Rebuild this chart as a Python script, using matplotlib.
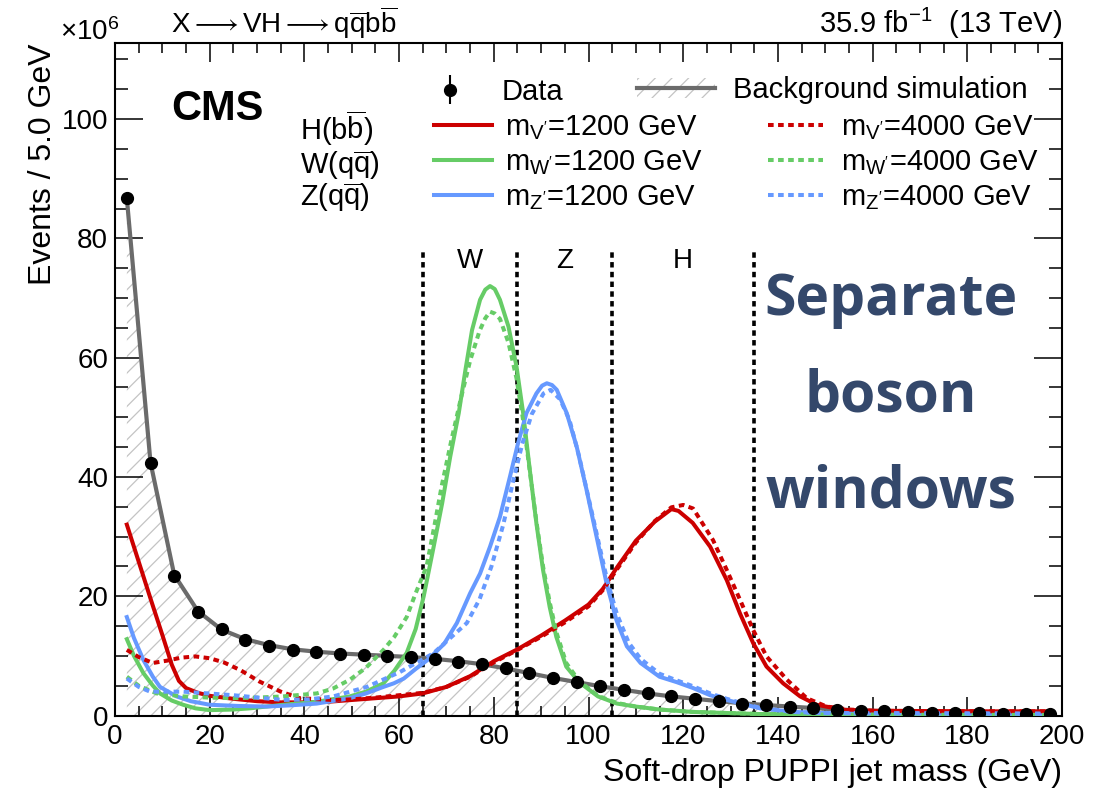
import numpy as np
import matplotlib
matplotlib.use("Agg")
import matplotlib.pyplot as plt
from matplotlib.lines import Line2D
from matplotlib.patches import Patch
from matplotlib.ticker import MultipleLocator
from matplotlib.legend_handler import HandlerTuple

plt.rcParams['font.family'] = ['Liberation Sans', 'DejaVu Sans']
plt.rcParams['mathtext.fontset'] = 'custom'
plt.rcParams['mathtext.rm'] = 'Liberation Sans'
plt.rcParams['mathtext.it'] = 'Liberation Sans:italic'
plt.rcParams['mathtext.bf'] = 'Liberation Sans:bold'
plt.rcParams['mathtext.fallback'] = 'stixsans'
plt.rcParams['hatch.linewidth'] = 0.9

# ---------------- data (values in units of 10^6 events) ----------------
bin_centers = [2.5, 7.5, 12.5, 17.5, 22.5, 27.5, 32.5, 37.5, 42.5, 47.5,
               52.5, 57.5, 62.5, 67.5, 72.5, 77.5, 82.5, 87.5, 92.5, 97.5,
               102.5, 107.5, 112.5, 117.5, 122.5, 127.5, 132.5, 137.5, 142.5, 147.5,
               152.5, 157.5, 162.5, 167.5, 172.5, 177.5, 182.5, 187.5, 192.5, 197.5]
data_events = [86.7, 42.4, 23.4, 17.4, 14.5, 12.7, 11.7, 11.0, 10.6, 10.3,
               10.1, 10.0, 9.85, 9.45, 9.0, 8.6, 7.9, 7.2, 6.3, 5.7,
               5.0, 4.3, 3.7, 3.2, 2.8, 2.4, 2.0, 1.7, 1.5, 1.2,
               0.92, 0.8, 0.7, 0.6, 0.5, 0.45, 0.4, 0.33, 0.28, 0.22]
bg_sim = [86.7, 42.4, 23.6, 17.5, 14.4, 12.8, 11.8, 11.1, 10.7, 10.4,
          10.2, 10.0, 9.8, 9.5, 9.1, 8.6, 7.9, 7.1, 6.3, 5.6,
          4.9, 4.3, 3.7, 3.2, 2.8, 2.4, 2.05, 1.75, 1.5, 1.25,
          1.0, 0.85, 0.72, 0.62, 0.52, 0.45, 0.4, 0.34, 0.29, 0.25]

# H(bb) m=1200 (solid red)
h1200_x = [2.5, 5, 7.5, 10, 12, 13.5, 15, 17.5, 20, 25, 30, 35, 40, 45, 50, 55, 60, 65, 70, 75,
           80, 85, 90, 95, 100, 103, 106, 110, 114, 117.5, 119, 122, 125.7, 129.2, 132, 134.8,
           137.6, 141.1, 144.7, 148.2, 153.8, 160, 170, 185, 197.5]
h1200_y = [32.0, 25.8, 19.6, 13.5, 8.5, 5.8, 4.6, 3.8, 3.3, 2.8, 2.4, 2.2, 2.2, 2.3, 2.6, 2.9, 3.2, 3.7, 4.8, 6.6,
           9.1, 11.1, 13.4, 15.9, 18.6, 21.2, 24.8, 29.3, 32.5, 34.6, 34.3, 32.3, 28.3, 22.7, 17.1, 12.1,
           8.2, 5.4, 3.2, 1.8, 0.95, 0.8, 0.75, 0.7, 0.7]
# H(bb) m=4000 (dotted red)
h4000_x = [2.5, 5, 8, 11, 14, 17, 20, 23, 26.5, 30.5, 35, 39, 46, 50, 55, 60, 65, 70, 75, 80,
           85, 90, 95, 100, 103, 106, 110, 114, 117.5, 120, 122.1, 126.3, 129.2, 132, 134.8, 137.6,
           141.9, 146.1, 150.3, 155, 160, 175, 197.5]
h4000_y = [11.0, 9.8, 8.8, 9.2, 9.7, 9.9, 9.6, 8.9, 7.6, 5.7, 4.0, 2.9, 2.6, 2.7, 3.0, 3.4, 3.8, 4.8, 6.5, 8.9,
           11.0, 13.2, 15.6, 18.3, 21.0, 24.5, 29.0, 32.6, 34.9, 35.3, 34.7, 29.4, 24.4, 19.4, 14.3, 9.9,
           6.0, 2.9, 1.5, 1.0, 0.8, 0.7, 0.7]
# W(qq) m=1200 (solid green)
w1200_x = [2.5, 4, 6, 8, 9.5, 12, 14.4, 17, 20, 25, 28.5, 32, 35.5, 42.6, 49.6, 53, 56.7, 59, 61.6, 63.5,
           65.2, 67.3, 69.1, 70.8, 72.6, 74, 75.4, 77.1, 78.2, 79.2, 80.2, 81.3, 83.1, 84.8, 86.2, 87.6, 89, 90.4,
           91.8, 93.2, 95.3, 98, 102, 106, 110, 115, 122, 136, 150, 197.5]
w1200_y = [12.8, 10.0, 7.1, 5.0, 3.7, 2.5, 1.8, 1.2, 0.9, 1.0, 1.2, 1.5, 1.8, 2.3, 3.2, 4.0, 5.4, 7.5, 10.5, 14.5,
           20.0, 28.3, 35.6, 43.4, 50.7, 57.9, 64.6, 69.7, 71.4, 72.0, 71.5, 69.7, 65.2, 58.5, 50.7, 41.2, 32.2, 24.4,
           18.2, 13.2, 8.2, 5.6, 3.2, 2.0, 1.5, 1.0, 0.6, 0.25, 0.15, 0.1]
# W(qq) m=4000 (dotted green)
w4000_x = [2.5, 5, 8.8, 14.4, 20, 25, 30, 35.5, 42.6, 46, 49.6, 53, 56.7, 59, 61.6, 63.5, 65.8, 67.5, 69, 71,
           73, 75, 77, 78.2, 79.2, 80.2, 81.3, 83.1, 84.8, 86.2, 87.6, 89, 90.4, 91.8, 93.2, 95.3, 98, 102, 106, 110,
           115, 122, 136, 150, 197.5]
w4000_y = [6.5, 5.0, 3.7, 3.2, 3.0, 2.9, 3.0, 3.2, 3.7, 4.5, 6.0, 8.0, 11.0, 13.2, 16.5, 20.5, 25.0, 32.0, 38.5, 46.0,
           53.0, 59.5, 64.5, 66.6, 67.7, 67.4, 66.5, 62.5, 56.5, 49.5, 41.0, 32.5, 25.0, 19.0, 14.0, 8.8, 5.8, 3.3, 2.1, 1.5,
           1.0, 0.6, 0.25, 0.15, 0.1]
# Z(qq) m=1200 (solid blue)
z1200_x = [2.5, 4, 6, 8, 9.5, 13, 16, 20, 26, 32, 37, 42.6, 49.6, 53, 56.7, 58.9, 61, 63.5, 66, 69.5,
           72.2, 75, 77.1, 79.2, 81.3, 83.4, 85.1, 86.9, 89, 90.2, 91.2, 92.3, 93.3, 95.4, 97.5, 99.6, 101.7, 103.8,
           105.9, 108.1, 111, 115, 118.6, 122.1, 125.7, 129.2, 132.7, 136.2, 143.2, 150, 197.5]
z1200_y = [16.5, 13.0, 9.3, 6.5, 4.8, 3.2, 2.4, 1.8, 1.6, 1.5, 1.7, 2.0, 2.9, 3.7, 4.8, 5.4, 6.2, 7.8, 9.3, 12.0,
           15.5, 20.5, 23.8, 28.3, 33.3, 40.0, 45.6, 50.7, 54.0, 55.3, 55.7, 55.4, 54.6, 50.7, 45.1, 37.8, 30.0, 22.2,
           16.0, 11.6, 8.8, 6.5, 5.6, 4.6, 3.4, 2.6, 1.9, 1.2, 0.6, 0.4, 0.3]
# Z(qq) m=4000 (dotted blue)
z4000_x = [2.5, 5, 7.4, 14.4, 25, 35.5, 41, 46.1, 53.2, 60.2, 67.2, 74.3, 77, 79.5, 82, 84, 86, 88, 90.5, 92,
           94, 96, 98, 100, 102, 104, 106, 108.5, 111, 115, 118.6, 122.1, 125.7, 129.2, 132.7, 136.2,
           143.2, 150, 197.5]
z4000_y = [6.2, 4.8, 4.0, 4.0, 3.4, 2.6, 2.7, 3.2, 4.8, 7.3, 10.4, 15.5, 19.5, 25.0, 32.0, 39.0, 45.5, 50.5, 54.0, 54.6,
           53.0, 49.5, 43.5, 36.5, 29.5, 22.5, 17.0, 12.2, 9.5, 7.0, 5.9, 4.9, 3.7, 2.8, 2.0, 1.3,
           0.6, 0.4, 0.3]

window_edges = [65, 85, 105, 135]
window_labels = ["W", "Z", "H"]
window_centers = [75, 95, 120]

RED, GREEN, BLUE, GRAY = "#cc0000", "#66cc66", "#6699ff", "#6b6b6b"
HATCH = "#c4c4c4"
DOT = (0, (1.4, 1.1))

# ---------------- figure ----------------
W, H = 1113, 793
fig = plt.figure(figsize=(W / 100, H / 100), dpi=100)
L, R, B, T = 115, 1062, 715.5, 43.3
ax = fig.add_axes([L / W, 1 - B / H, (R - L) / W, (B - T) / H])

def ax_x(px):
    return (px - L) / (R - L)

def ax_y(py):
    return (B - py) / (B - T)

ax.set_xlim(0, 200)
ax.set_ylim(0, 112.7)

# background simulation: hatched area + gray line
ax.fill_between(bin_centers, 0, bg_sim, facecolor="none", edgecolor=HATCH,
                hatch="//", linewidth=0, zorder=1)
ax.plot(bin_centers, bg_sim, color=GRAY, lw=3.0, zorder=3)

# windows
ax.vlines(window_edges, 0, 78, colors="black", linestyles=(0, (1.5, 1.2)), lw=2.6, zorder=2)
for lab, c in zip(window_labels, window_centers):
    ax.text(c, 75.1, lab, ha="center", va="baseline", fontsize=20)

# signals
lw_sig = 2.9
ax.plot(h1200_x, h1200_y, color=RED, lw=lw_sig, zorder=4)
ax.plot(w1200_x, w1200_y, color=GREEN, lw=lw_sig, zorder=4)
ax.plot(z1200_x, z1200_y, color=BLUE, lw=lw_sig, zorder=4)
ax.plot(h4000_x, h4000_y, color=RED, lw=lw_sig, ls=DOT, zorder=4)
ax.plot(w4000_x, w4000_y, color=GREEN, lw=lw_sig, ls=DOT, zorder=4)
ax.plot(z4000_x, z4000_y, color=BLUE, lw=lw_sig, ls=DOT, zorder=4)

# data
data_err = np.sqrt(np.array(data_events) * 1e6) / 1e6
eb = ax.errorbar(bin_centers, data_events, yerr=data_err, fmt="o", color="black",
                 ms=8.5, elinewidth=1.5, capsize=0, zorder=6)

# axes styling
ax.xaxis.set_major_locator(MultipleLocator(20))
ax.xaxis.set_minor_locator(MultipleLocator(5))
ax.yaxis.set_major_locator(MultipleLocator(20))
ax.yaxis.set_minor_locator(MultipleLocator(5))
ax.tick_params(which="both", direction="in", top=True, right=True, width=1.1, labelsize=20)
ax.tick_params(axis="x", which="major", length=14, pad=6)
ax.tick_params(axis="x", which="minor", length=7)
ax.tick_params(axis="y", which="major", length=20, pad=5)
ax.tick_params(axis="y", which="minor", length=9.6)
for sp in ax.spines.values():
    sp.set_linewidth(1.5)

ax.set_xlabel("Soft-drop PUPPI jet mass (GeV)", fontsize=23, loc="right")
ax.xaxis.set_label_coords(1.0, ax_y(758))
ax.set_ylabel("Events / 5.0 GeV", fontsize=23, loc="top")
ax.yaxis.set_label_coords(ax_x(58), 1.0)

# header texts
ax.text(ax_x(60), ax_y(40), "×10$^{6}$", transform=ax.transAxes, fontsize=20, va="baseline", ha="left")
ax.text(ax_x(171), ax_y(33),
        r"X$\longrightarrow$VH$\longrightarrow$q$\overline{\mathrm{q}}$b$\overline{\mathrm{b}}$",
        transform=ax.transAxes, fontsize=20, va="baseline", ha="left")
ax.text(1.0, ax_y(33), "35.9 fb$^{-1}$  (13 TeV)", transform=ax.transAxes,
        fontsize=21, va="baseline", ha="right")
ax.text(ax_x(171), ax_y(120), "CMS", transform=ax.transAxes, fontsize=30,
        fontweight="bold", va="baseline", ha="left")

# legend: boson labels
for lab, py in zip([r"H(b$\overline{\mathrm{b}}$)", r"W(q$\overline{\mathrm{q}}$)", r"Z(q$\overline{\mathrm{q}}$)"],
                   [128, 165, 197]):
    ax.text(ax_x(300), ax_y(py), lab, transform=ax.transAxes, fontsize=21, va="center", ha="left")

leg_kw = dict(frameon=False, borderpad=0, borderaxespad=0, fontsize=21, loc="center left")

leg_data = ax.legend([eb], ["Data"], bbox_to_anchor=(ax_x(421), ax_y(92)),
                     handlelength=2.0, handletextpad=0.75, **leg_kw)
ax.add_artist(leg_data)

bg_handle = (Patch(facecolor="none", edgecolor=HATCH, hatch="//", linewidth=0),
             Line2D([], [], color=GRAY, lw=3.0))
leg_bg = ax.legend([bg_handle], ["Background simulation"], bbox_to_anchor=(ax_x(637), ax_y(90)),
                   handlelength=2.67, handletextpad=0.62,
                   handler_map={tuple: HandlerTuple(ndivide=1, pad=0)}, **leg_kw)
ax.add_artist(leg_bg)

solid_handles = [Line2D([], [], color=c, lw=lw_sig) for c in (RED, GREEN, BLUE)]
solid_labels = [r"$\mathrm{m_{V'}}$=1200 GeV", r"$\mathrm{m_{W'}}$=1200 GeV", r"$\mathrm{m_{Z'}}$=1200 GeV"]
leg_s = ax.legend(solid_handles, solid_labels, bbox_to_anchor=(ax_x(434), ax_y(162.5)),
                  handlelength=2.0, handletextpad=0.45, labelspacing=0.2, **leg_kw)
ax.add_artist(leg_s)

dot_handles = [Line2D([], [], color=c, lw=lw_sig, ls=DOT) for c in (RED, GREEN, BLUE)]
dot_labels = [r"$\mathrm{m_{V'}}$=4000 GeV", r"$\mathrm{m_{W'}}$=4000 GeV", r"$\mathrm{m_{Z'}}$=4000 GeV"]
leg_d = ax.legend(dot_handles, dot_labels, bbox_to_anchor=(ax_x(768), ax_y(162.5)),
                  handlelength=1.9, handletextpad=0.6, labelspacing=0.2, **leg_kw)

# annotation
for word, py in zip(["Separate", "boson", "windows"], [315, 412, 507]):
    ax.text(ax_x(891), ax_y(py), word, transform=ax.transAxes, fontsize=41,
            fontweight="bold", family="Open Sans", color="#34486b", ha="center", va="baseline")

fig.savefig("out.png", dpi=100)
